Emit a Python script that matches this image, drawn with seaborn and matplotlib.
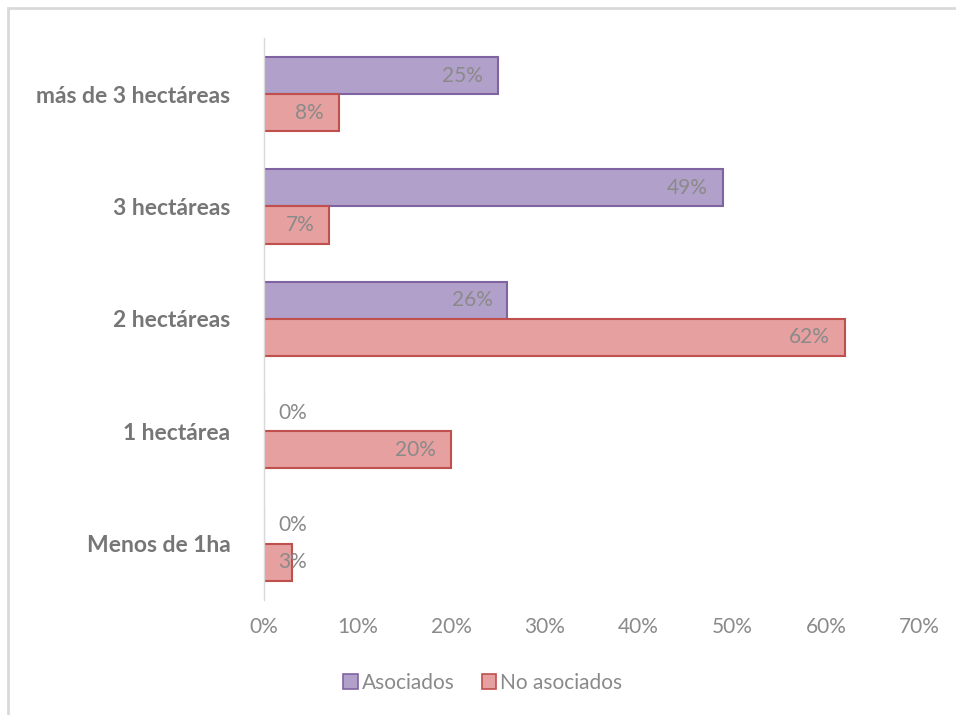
import pandas as pd
import matplotlib
matplotlib.use("Agg")
import matplotlib.pyplot as plt
import seaborn as sns
from matplotlib.patches import Rectangle

# data
categories = ["más de 3 hectáreas", "3 hectáreas", "2 hectáreas", "1 hectárea", "Menos de 1ha"]
asociados = [25, 49, 26, 0, 0]
no_asociados = [8, 7, 62, 20, 3]
groups = ["Asociados", "No asociados"]
x_ticks = [0, 10, 20, 30, 40, 50, 60, 70]

fill_colors = {"Asociados": "#b1a0c9", "No asociados": "#e5a09f"}
edge_colors = {"Asociados": "#8064a2", "No asociados": "#c0504d"}

df = pd.DataFrame({
    "categoria": categories * 2,
    "grupo": [groups[0]] * len(categories) + [groups[1]] * len(categories),
    "valor": asociados + no_asociados,
})

sns.set_theme(style="white")
plt.rcParams["font.family"] = ["Lato", "DejaVu Sans"]

fig = plt.figure(figsize=(9.56, 7.15), dpi=100)
ax = fig.add_axes([0.276, 0.161, 0.686, 0.786])

sns.barplot(data=df, y="categoria", x="valor", hue="grupo", order=categories,
            hue_order=groups, palette=fill_colors, width=0.66, gap=0,
            saturation=1, orient="h", ax=ax, legend=False)

# edges per series
n = len(categories)
for i, patch in enumerate(ax.patches[:2 * n]):
    grp = groups[i // n]
    patch.set_edgecolor(edge_colors[grp])
    patch.set_linewidth(1.5)

label_color = "#8a8a8a"
label_size = 15

# value labels, inside end (pushed right when the bar is too short)
for i, patch in enumerate(ax.patches[:2 * n]):
    val = patch.get_width()
    yc = patch.get_y() + patch.get_height() / 2
    if val < 6:
        ax.text(1.5, yc, f"{val:.0f}%", ha="left", va="center",
                fontsize=label_size, color=label_color)
    else:
        ax.text(val - 1.6, yc, f"{val:.0f}%", ha="right", va="center",
                fontsize=label_size, color=label_color)

ax.set_xlim(0, 70)
ax.set_xticks(x_ticks)
ax.set_xticklabels([f"{t}%" for t in x_ticks], fontsize=label_size, color=label_color)
ax.tick_params(axis="x", length=0, pad=12)
ax.tick_params(axis="y", length=0, pad=24)
for lbl in ax.get_yticklabels():
    lbl.set_fontsize(16.5)
    lbl.set_fontweight("bold")
    lbl.set_color("#767676")
ax.set_xlabel("")
ax.set_ylabel("")
for side in ["top", "right", "bottom"]:
    ax.spines[side].set_visible(False)
ax.spines["left"].set_color("#d9d9d9")
ax.spines["left"].set_linewidth(1)

# legend below the axis
handles = [Rectangle((0, 0), 1, 1, facecolor=fill_colors[g], edgecolor=edge_colors[g],
                     linewidth=1.2) for g in groups]
fig.legend(handles, groups, loc="center", bbox_to_anchor=(0.505, 0.045), ncol=2,
           frameon=False, fontsize=label_size, labelcolor=label_color,
           handlelength=0.7, handleheight=0.7, handletextpad=0.2, columnspacing=1.3)

# light frame around the chart area
fig.patches.append(Rectangle((8 / 956, -0.05), 1.1, 1 - 8 / 715 + 0.05,
                             transform=fig.transFigure, fill=False,
                             edgecolor="#d9d9d9", linewidth=2))

fig.savefig("out.png", dpi=100)
